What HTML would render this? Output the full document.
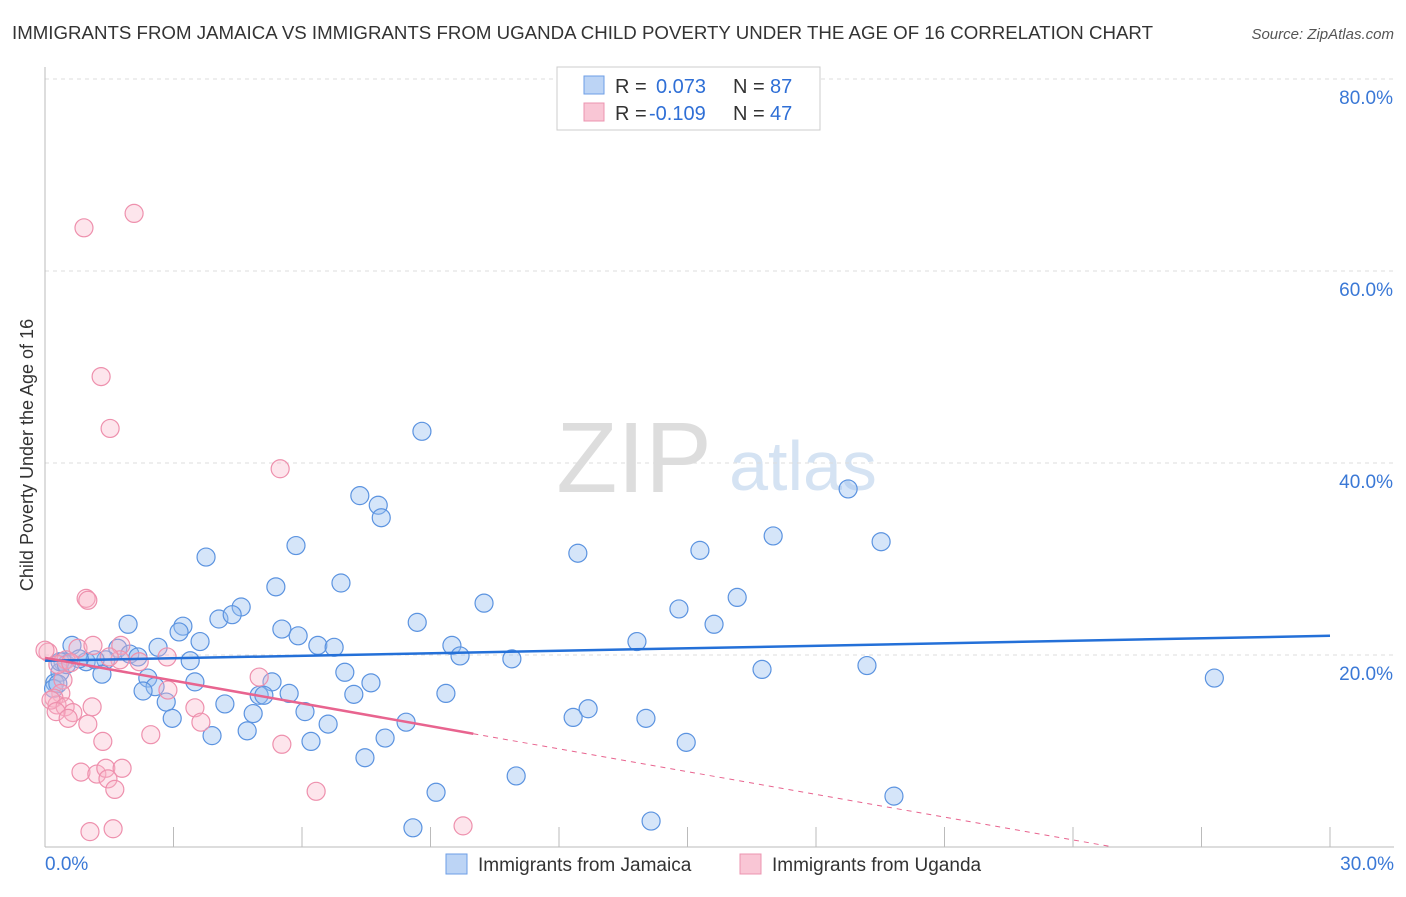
<!DOCTYPE html>
<html><head><meta charset="utf-8"><style>
body{margin:0;background:#fff;font-family:"Liberation Sans",sans-serif;}
svg text{font-family:"Liberation Sans",sans-serif;}
</style></head><body>
<svg id="chart" width="1406" height="892" xmlns="http://www.w3.org/2000/svg">
<text x="12" y="39" font-size="18" fill="#333" textLength="1141" lengthAdjust="spacingAndGlyphs">IMMIGRANTS FROM JAMAICA VS IMMIGRANTS FROM UGANDA CHILD POVERTY UNDER THE AGE OF 16 CORRELATION CHART</text>
<text x="1394" y="39" font-size="15" fill="#555" text-anchor="end" font-style="italic">Source: ZipAtlas.com</text>
<text transform="translate(33,455) rotate(-90)" font-size="18" fill="#333" text-anchor="middle">Child Poverty Under the Age of 16</text>
<g>
<text x="634" y="492" font-size="100" fill="#ddd" text-anchor="middle" font-family="Liberation Serif,serif">ZIP</text>
<text x="803" y="490" font-size="70" fill="#d5e3f3" text-anchor="middle">atlas</text>
</g>
<g id="grid"></g><g id="marks"></g>
<g>
<rect x="557" y="67" width="263" height="63" fill="#fff" stroke="#ccc"/>
<rect x="584" y="76" width="20" height="18" fill="#bcd4f5" stroke="#6d9ee6"/>
<rect x="584" y="103" width="20" height="18" fill="#f9c6d5" stroke="#ec94b0"/>
<text x="615" y="93" font-size="20" fill="#333">R =</text><text x="656" y="93" font-size="20" fill="#2f6fd6">0.073</text>
<text x="733" y="93" font-size="20" fill="#333">N =</text><text x="770" y="93" font-size="20" fill="#2f6fd6">87</text>
<text x="615" y="120" font-size="20" fill="#333">R =</text><text x="649" y="120" font-size="20" fill="#2f6fd6">-0.109</text>
<text x="733" y="120" font-size="20" fill="#333">N =</text><text x="770" y="120" font-size="20" fill="#2f6fd6">47</text>
</g>
<g>
<rect x="446" y="854" width="21" height="20" fill="#bcd4f5" stroke="#6d9ee6"/>
<text x="478" y="871" font-size="19" fill="#333">Immigrants from Jamaica</text>
<rect x="740" y="854" width="21" height="20" fill="#f9c6d5" stroke="#ec94b0"/>
<text x="772" y="871" font-size="19" fill="#333">Immigrants from Uganda</text>
</g>
</svg>
<script>
const xTicks=[0,3,6,9,12,15,18,21,24,27,30];
const yTicks=[20,40,60,80];
const xLabels=["0.0%","30.0%"];
const jamaicaX=[8.80,7.35,7.78,7.85,18.75,17.0,19.52,12.44,15.29,5.86,3.76,5.39,6.91,10.25,16.16,14.80,4.58,1.94,3.22,4.06,4.37,8.69,15.62,3.13,5.53,5.91,6.37,6.75,3.62,9.50,13.82,2.64,1.70,0.63,1.98,2.17,1.42,0.96,1.17,9.69,10.9,3.39,0.42,19.19,16.74,27.3,7.0,2.40,5.30,7.61,3.50,0.35,1.33,0.23,2.57,5.70,5.0,5.11,7.21,9.36,2.29,2.83,4.20,6.07,12.68,4.86,12.33,14.03,2.97,8.43,6.61,4.72,3.90,7.94,6.21,14.97,7.47,11.0,9.13,19.82,8.59,14.15,0.35,0.2,0.3,0.5,0.8];
const jamaicaY=[43.3,36.6,35.6,34.3,37.3,32.4,31.8,30.6,30.9,31.4,30.2,27.1,27.5,25.4,26.0,24.8,25.0,23.2,23.0,23.75,24.2,23.4,23.2,22.4,22.7,22.0,21.0,20.8,21.4,21.0,21.4,20.8,20.7,21.0,20.1,19.8,19.5,19.3,19.5,19.9,19.6,19.4,19.3,18.9,18.5,17.6,18.2,17.6,17.2,17.1,17.2,18.2,18.0,17.1,16.7,16.0,15.8,15.8,15.9,16.0,16.25,15.1,14.9,14.1,14.4,13.9,13.5,13.4,13.4,13.0,12.8,12.1,11.6,11.35,11.0,10.9,9.3,7.4,5.7,5.3,2.0,2.7,19.3,16.5,17.0,19.0,19.6];
const ugandaX=[2.08,0.91,1.31,1.52,5.49,0.96,1.0,0.07,0.77,1.12,1.77,2.85,1.75,0.49,5.0,0.42,2.87,0.37,0.21,0.28,0.14,0.47,0.65,1.10,0.26,0.54,3.50,3.64,1.0,2.47,1.35,5.53,0.84,1.21,1.42,1.80,1.47,1.63,6.33,1.05,1.59,9.76,0.0,0.3,0.6,2.2,1.5];
const ugandaY=[66.0,64.5,49.0,43.6,39.4,25.9,25.7,20.3,20.7,21.0,21.0,19.8,19.5,19.5,17.7,17.4,16.35,16.0,15.5,14.8,15.3,14.6,14.0,14.6,14.1,13.4,14.5,13.0,12.8,11.7,11.0,10.7,7.8,7.6,8.2,8.2,7.1,6.0,5.8,1.6,1.9,2.2,20.5,19.0,19.2,19.3,19.8];
const jamaicaTrend=[19.4,22.0];
const ugandaTrend=[19.7,-0.79];
const X0=45,X1=1330,Y0=847,Y80=79;
const sx=v=>X0+(X1-X0)*v/30;
const sy=v=>Y0-(Y0-Y80)*v/80;
const NS="http://www.w3.org/2000/svg";
function mk(tag,attrs,parent){const e=document.createElementNS(NS,tag);for(const k in attrs)e.setAttribute(k,attrs[k]);parent.appendChild(e);return e;}
const grid=document.getElementById('grid'),marks=document.getElementById('marks');
yTicks.forEach(t=>{
 const l=mk('line',{x1:X0,x2:1394,y1:sy(t),y2:sy(t),stroke:'#ddd','stroke-dasharray':'4,4'},grid);
 
 
 const tx=mk('text',{x:1393,y:sy(t)+25,'font-size':19,fill:'#3a78d6','text-anchor':'end'},grid);
 tx.textContent=t.toFixed(1)+'%';
 
 
});
const ax=mk('line',{x1:X0,x2:X0,y1:67,y2:Y0,stroke:'#bbb'},grid);


const bx=mk('line',{x1:X0,x2:1394,y1:Y0,y2:Y0,stroke:'#bbb'},grid);


xTicks.forEach(t=>{
 const l=mk('line',{x1:sx(t),x2:sx(t),y1:Y0-20,y2:Y0,stroke:'#bbb'},grid);
 
 
});
[[0,xLabels[0],'start',45],[30,xLabels[1],'end',1394]].forEach(a=>{
 const tx=mk('text',{x:a[3],y:870,'font-size':19,fill:'#3a78d6','text-anchor':a[2]},grid);
 tx.textContent=a[1];
 
 
});
jamaicaX.forEach((x,i)=>{
 const c=mk('circle',{cx:sx(x),cy:sy(jamaicaY[i]),r:9,fill:'rgba(150,190,240,0.4)',stroke:'#5b93e0','stroke-width':1.2},marks);
 
 
});
ugandaX.forEach((x,i)=>{
 const c=mk('circle',{cx:sx(x),cy:sy(ugandaY[i]),r:9,fill:'rgba(248,180,200,0.35)',stroke:'#ee90ad','stroke-width':1.2},marks);
 
 
});
const jl=mk('line',{x1:sx(0),y1:sy(jamaicaTrend[0]),x2:sx(30),y2:sy(jamaicaTrend[1]),stroke:'#2470d8','stroke-width':2.5},marks);


const ul=mk('line',{x1:sx(0),y1:sy(ugandaTrend[0]),x2:sx(10),y2:sy(ugandaTrend[0]+ugandaTrend[1]*10),stroke:'#e8648f','stroke-width':2.5},marks);


const xe=-ugandaTrend[0]/ugandaTrend[1];
const ud=mk('line',{x1:sx(10),y1:sy(ugandaTrend[0]+ugandaTrend[1]*10),x2:sx(xe),y2:sy(0),stroke:'#e8648f','stroke-width':1,'stroke-dasharray':'5,5'},marks);


</script>
</body></html>
